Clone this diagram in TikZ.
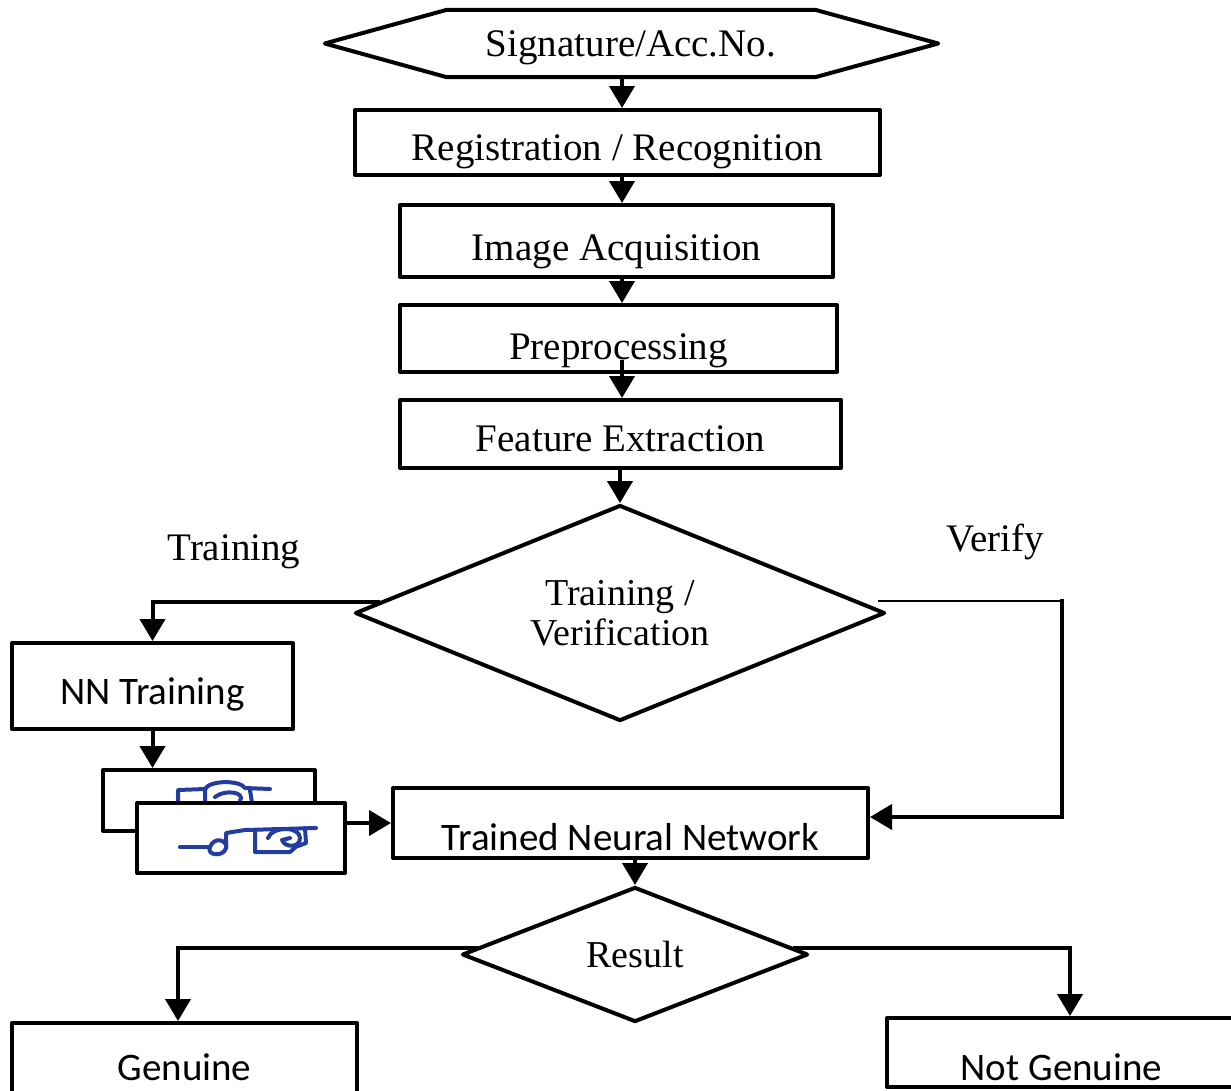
\documentclass[tikz,border=0pt]{standalone}
\usepackage{fontspec}
\setmainfont{Liberation Serif}
\newfontfamily\calfont{Carlito}
\usetikzlibrary{arrows.meta,shapes.geometric,calc}
\definecolor{sigblue}{RGB}{35,60,160}
\begin{document}
\begin{tikzpicture}[x=1pt,y=-1pt,
  box/.style={draw,line width=4pt,line join=round,fill=white,inner sep=0pt,text depth=0pt,font=\fontsize{39}{44}\selectfont},
  sbox/.style={box,font=\calfont\fontsize{39}{44}\selectfont},
  dia/.style={draw,diamond,line width=4pt,line join=round,fill=white,inner sep=0pt,align=center,font=\fontsize{38}{40}\selectfont},
  arr/.style={line width=4pt,-{Triangle[length=22pt,width=25pt]}},
  conn/.style={line width=4pt},
  thinconn/.style={line width=2pt},
  lbl/.style={inner sep=0pt,anchor=base,font=\fontsize{39}{44}\selectfont},
  sigpen/.style={draw=sigblue,line width=4pt,line cap=round,line join=round}
]
\useasboundingbox (0,0) rectangle (1231,1090);
\clip (0,0) rectangle (1231,1090);

% column coordinate
\coordinate (col) at (622,0);

% hexagon input
\node[inner sep=0pt,minimum width=368pt,minimum height=67pt,text height=25pt,text depth=0pt,font=\fontsize{39}{44}\selectfont] (sig) at (631,43.5) {Signature/Acc.No.};
\draw[line width=4pt,line join=round] (sig.north west) -- (sig.north east) -- ($(sig.east)+(123,0)$) -- (sig.south east) -- (sig.south west) -- ($(sig.west)+(-122,0)$) -- cycle;

% main column
\node[box,minimum width=525pt,minimum height=65pt,text height=35pt] (reg) at (617.5,142.5) {Registration / Recognition};
\node[box,minimum width=433pt,minimum height=72pt,text height=38pt] (img) at (616.5,241) {Image Acquisition};
\node[box,minimum width=437pt,minimum height=67pt,text height=41pt] (pre) at (618.5,338.5) {Preprocessing};
\node[box,minimum width=441pt,minimum height=68pt,text height=34pt] (fe) at (620.5,434) {Feature Extraction};

% decision
\node[dia,aspect=2.45,minimum width=530pt,minimum height=216pt] (d1) at (620,613) {Training /\\Verification};

\node[lbl] (ltrain) at (234,560) {Training};
\node[lbl] (lverify) at (995,551) {Verify};

% training branch
\node[sbox,minimum width=281pt,minimum height=86pt,text height=36pt] (nn) at (152.5,686) {NN Training};

% signature samples
\node[box,minimum width=212pt,minimum height=61pt] (sigback) at (209,800.5) {};
\begin{scope}
\clip (sigback.north west) rectangle (sigback.south east);
\draw[sigpen] (178,803) -- (178,790) -- (205,789) -- (205,803);
\draw[sigpen] (205,789) .. controls (210,780) and (240,780) .. (245,788) -- (270,789);
\draw[sigpen] (215,797) .. controls (225,789) and (246,792) .. (240,801);
\draw[sigpen] (250,790) -- (252,803);
\end{scope}
\node[box,minimum width=208pt,minimum height=70pt] (sigfront) at (241,838) {};
\draw[sigpen] (180,847) -- (210,847);
\draw[sigpen] (210,847) .. controls (214,836) and (228,840) .. (226,848) .. controls (224,857) and (206,856) .. (210,847);
\draw[sigpen] (226,848) -- (226,833) -- (245,830) -- (316,828);
\draw[sigpen] (255,830) -- (255,852) -- (290,852) -- (298,845);
\draw[sigpen] (268,838) .. controls (272,826) and (300,826) .. (300,838) .. controls (300,848) and (285,848) .. (282,840) -- (290,838);
\draw[sigpen] (305,828) -- (306,843) -- (298,846);

% trained network
\node[sbox,minimum width=475pt,minimum height=70pt,text height=54pt] (tnn) at (630.5,823) {Trained Neural Network};

% result
\node[dia,aspect=2.56,minimum width=346pt,minimum height=135pt] (res) at (635,954.5) {Result};

\node[sbox,minimum width=345pt,minimum height=100pt,text height=14pt] (gen) at (184.5,1073) {Genuine};
\node[sbox,minimum width=349pt,minimum height=69pt,text height=55pt] (ng) at (1061.5,1052.5) {Not Genuine};

% connectors
\draw[arr] (sig.south -| col) -- (reg.north -| col);
\draw[arr] (reg.south -| col) -- (img.north -| col);
\draw[arr] (img.south -| col) -- (pre.north -| col);
\draw[arr] ($(pre.south -| col)+(0,-14)$) -- (fe.north -| col);
\draw[arr] (fe.south -| d1.north) -- (d1.north);

\coordinate (ta) at ($(d1.west)!0.1!(d1.north)$);
\draw[arr] (ta) -| (nn.north);
\draw[arr] (nn.south) -- (sigback.north -| nn.south);
\draw[arr] (sigfront.east |- tnn.west) -- (tnn.west);

\coordinate (vb) at (878,601);
\coordinate (vc) at (1062,601);
\draw[thinconn] (vb) -- (vc);
\draw[arr] ($(vc)+(0,-2)$) |- ($(tnn.east)+(0,-6)$);

\draw[arr] (tnn.south -| res.north) -- (res.north);
\coordinate (rl) at ($(res.west)!0.1!(res.north)$);
\coordinate (rr) at ($(res.east)!0.1!(res.north)$);
\draw[arr] (rl) -| ($(gen.north)+(-6.5,0)$);
\draw[arr] (rr) -| ($(ng.north)+(8.5,0)$);
\end{tikzpicture}
\end{document}
